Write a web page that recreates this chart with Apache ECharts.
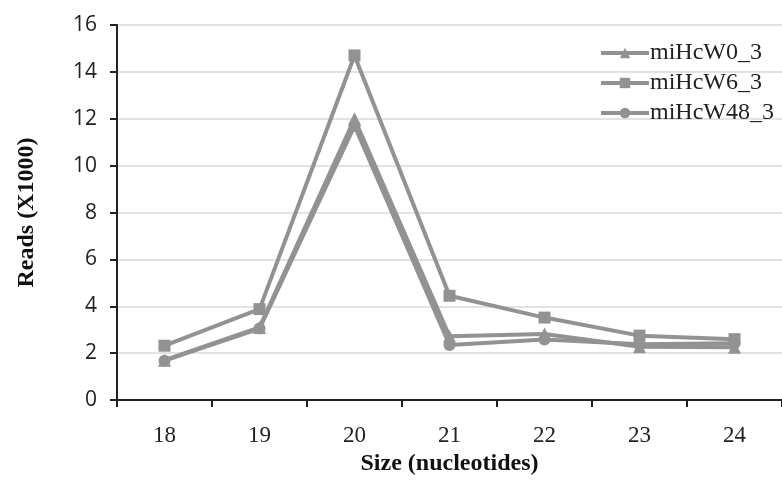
<!DOCTYPE html>
<html>
<head>
<meta charset="utf-8">
<script src="https://cdn.jsdelivr.net/npm/echarts@6/dist/echarts.min.js"></script>
<style>
  html, body { margin: 0; padding: 0; background: #fff; }
  #chart { width: 782px; height: 481px; }
</style>
</head>
<body>
<div id="chart"></div>
<script>
// Read length distribution (reads in thousands) per library
const sizes = ['18', '19', '20', '21', '22', '23', '24'];
const yTicks = [0, 2, 4, 6, 8, 10, 12, 14, 16];
const miHcW0_3 = [1.7, 3.1, 12.0, 2.72, 2.82, 2.28, 2.25];
const miHcW6_3 = [2.32, 3.88, 14.7, 4.45, 3.52, 2.75, 2.6];
const miHcW48_3 = [1.68, 3.05, 11.7, 2.35, 2.58, 2.38, 2.42];

const grey = '#929292';
const serif = '"Liberation Serif", "Times New Roman", serif';

function lineSeries(name, data, symbol, size) {
  return {
    name: name,
    type: 'line',
    data: data,
    symbol: symbol,
    symbolSize: size,
    lineStyle: { color: grey, width: 4 },
    itemStyle: { color: grey },
    emphasis: { disabled: true }
  };
}

const chart = echarts.init(document.getElementById('chart'));
chart.setOption({
  animation: false,
  backgroundColor: '#fff',
  grid: { left: 117, right: -11, top: 25, bottom: 75 },
  legend: {
    orient: 'vertical',
    left: 594,
    top: 36,
    itemWidth: 48,
    itemHeight: 13,
    itemGap: 6,
    lineStyle: { width: 4 },
    textStyle: { fontFamily: serif, fontSize: 24, color: '#222', padding: [0, 0, 0, -4] },
    data: ['miHcW0_3', 'miHcW6_3', 'miHcW48_3']
  },
  xAxis: {
    type: 'category',
    data: sizes,
    boundaryGap: true,
    name: 'Size (nucleotides)',
    nameLocation: 'middle',
    nameGap: 49,
    nameTextStyle: { fontFamily: serif, fontSize: 24, fontWeight: 'bold', color: '#111' },
    axisLine: { lineStyle: { color: '#222', width: 2 } },
    axisTick: { show: true, length: 7, lineStyle: { color: '#222', width: 2 } },
    axisLabel: { fontFamily: serif, fontSize: 23, color: '#222', margin: 24 },
    splitLine: { show: false }
  },
  yAxis: {
    type: 'value',
    min: yTicks[0],
    max: yTicks[yTicks.length - 1],
    interval: 2,
    name: 'Reads (X1000)',
    nameLocation: 'middle',
    nameGap: 78,
    nameRotate: 90,
    nameTextStyle: { fontFamily: serif, fontSize: 24, fontWeight: 'bold', color: '#111' },
    axisLine: { show: true, lineStyle: { color: '#222', width: 2 } },
    axisTick: { show: true, length: 7, lineStyle: { color: '#222', width: 2 } },
    axisLabel: { fontFamily: '"Open Sans", "Noto Sans", sans-serif', fontSize: 21, color: '#222', margin: 20 },
    splitLine: { show: true, lineStyle: { color: '#e3e3e3', width: 2 } }
  },
  series: [
    lineSeries('miHcW0_3', miHcW0_3, 'triangle', 13),
    lineSeries('miHcW6_3', miHcW6_3, 'rect', 12),
    lineSeries('miHcW48_3', miHcW48_3, 'circle', 12)
  ]
});
</script>
</body>
</html>
